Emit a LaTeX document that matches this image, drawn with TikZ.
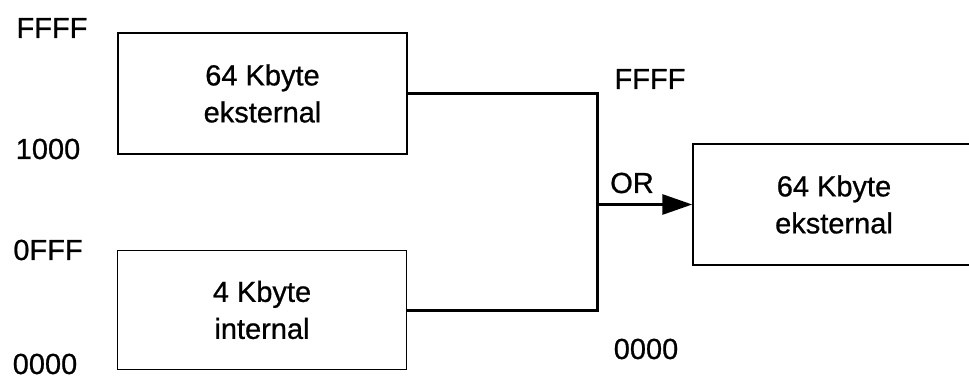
\documentclass[tikz,border=0pt]{standalone}
\usepackage{fontspec}
\setmainfont{Liberation Sans}
\newfontfamily\scanfont[FakeBold=0.8]{Liberation Sans}
\usepackage{tikz}
\usetikzlibrary{arrows.meta,positioning,calc}

\begin{document}
\begin{tikzpicture}[x=1pt,y=-1pt,mem/.style={draw=black,line width=1.5pt,minimum width=289pt,minimum height=121pt,align=center,inner sep=0pt,font=\scanfont\fontsize{29}{37}\selectfont},addr/.style={inner sep=0pt,font=\scanfont\fontsize{29}{35}\selectfont},bus/.style={line width=3pt},arr/.style={-{Triangle[length=30pt,width=20pt]},line width=3pt}]
\useasboundingbox (0,0) rectangle (969,380);
\node[mem] (ext) at (262.5,93.5) {64 Kbyte\\eksternal};
\node[mem,minimum height=119pt] (int) at (262,310) {4 Kbyte\\internal};
\node[mem,minimum width=282pt] (res) at (834,204.5) {64 Kbyte\\eksternal};
\coordinate (join) at (597,204.5);
\node[addr] (extTop) at (52,28) {FFFF};
\node[addr] (extBot) at (48,149) {1000};
\node[addr] (intTop) at (48,250) {0FFF};
\node[addr] (intBot) at (45,364) {0000};
\node[addr] (resTop) at (650,79) {FFFF};
\node[addr] (orLbl) at (632,183) {OR};
\node[addr] (resBot) at (646,349) {0000};
\draw[bus] (ext.east) -| (join) |- (int.east);
\draw[arr] (join)--(res.west);
\end{tikzpicture}
\end{document}
